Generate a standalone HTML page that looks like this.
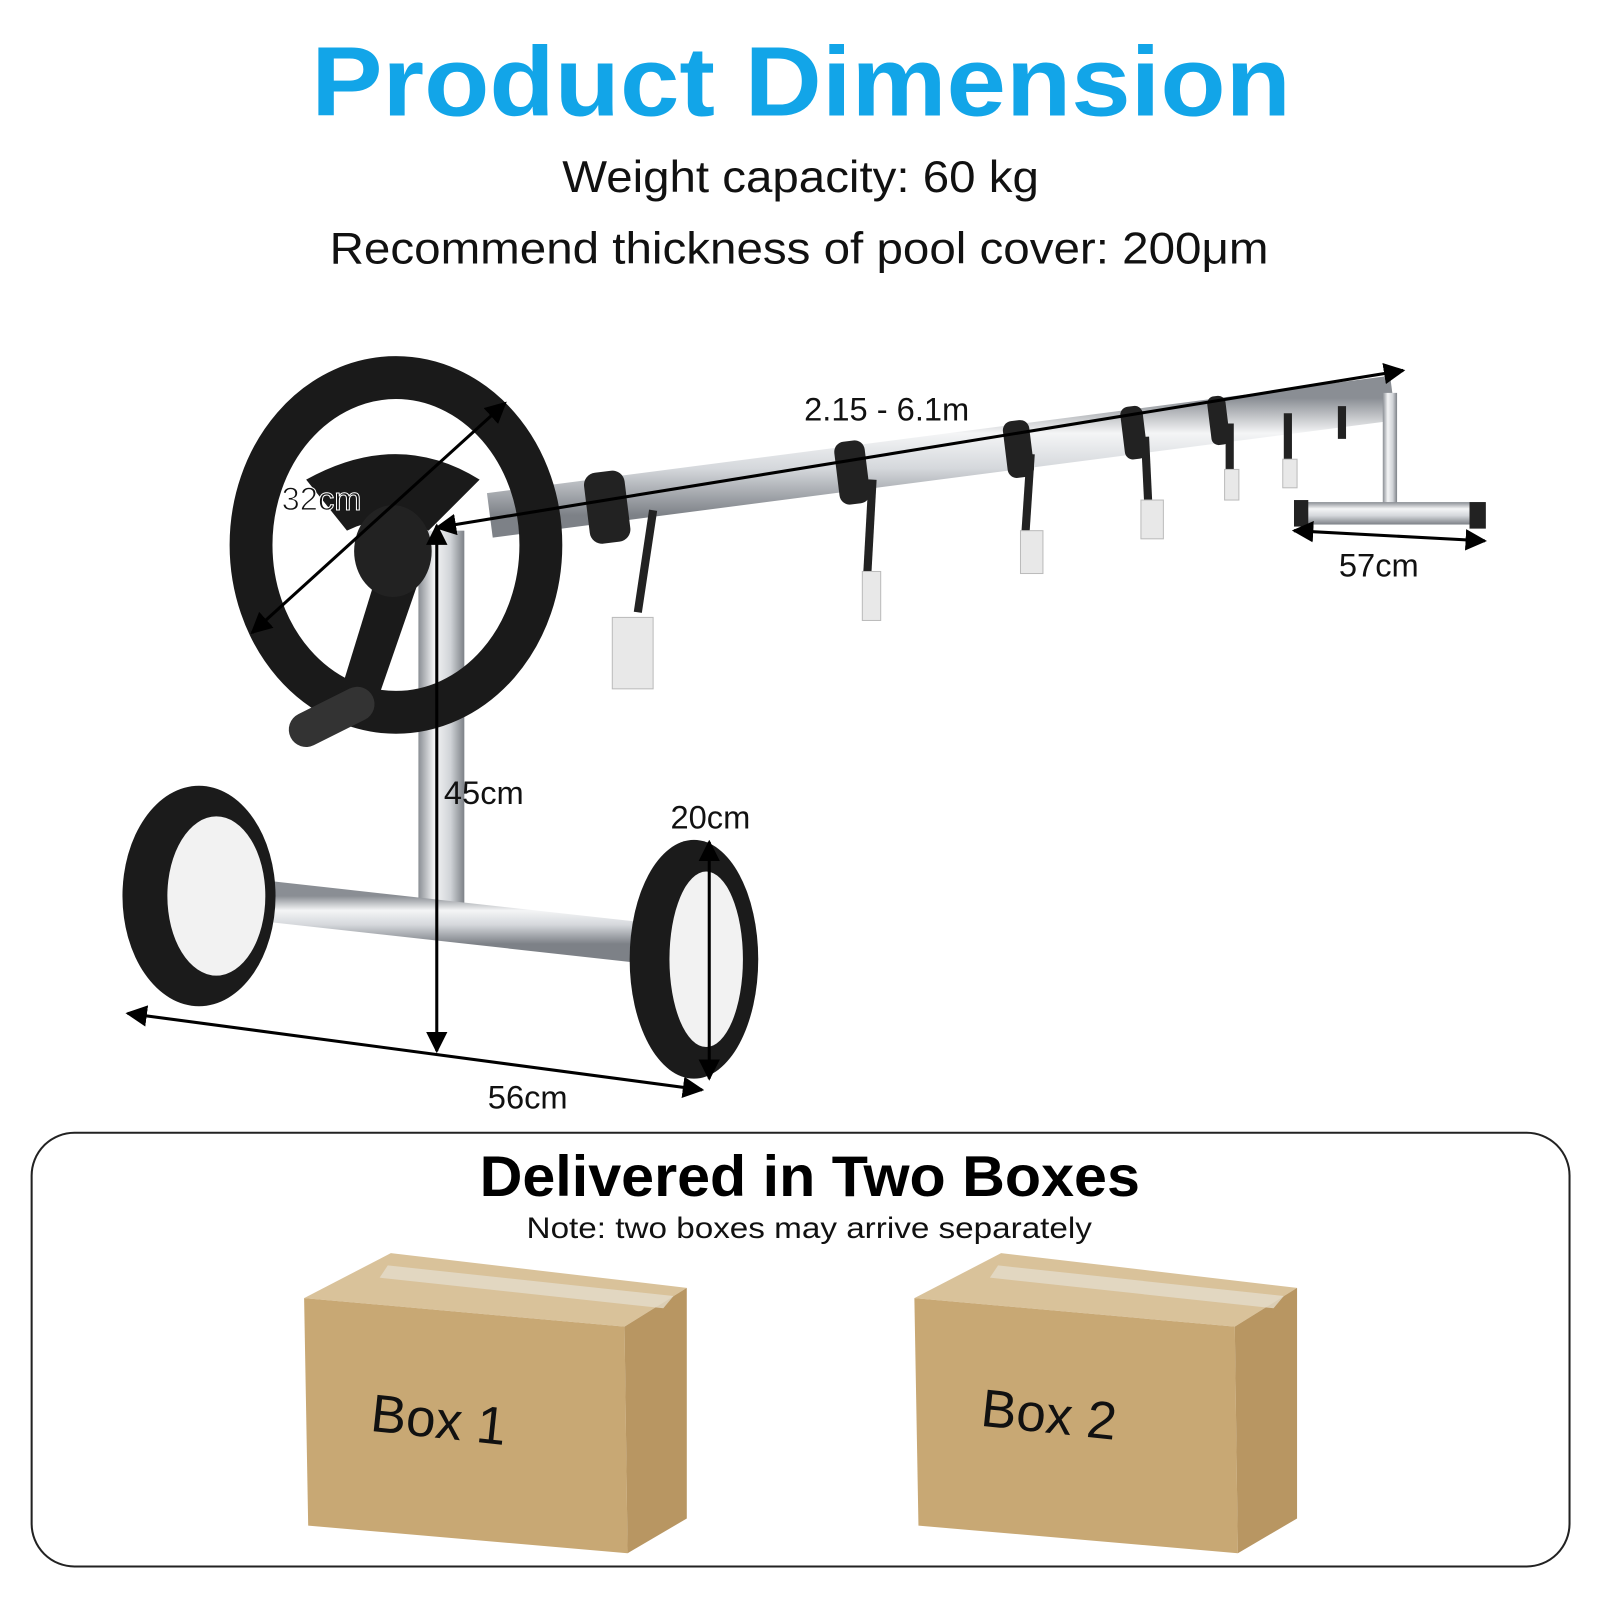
<!DOCTYPE html>
<html><head><meta charset="utf-8"><style>
html,body{margin:0;padding:0;background:#fff}
svg{display:block}
text{font-family:"Liberation Sans",sans-serif}
</style></head><body>
<svg width="1600" height="1600" viewBox="0 0 1600 1600" xmlns="http://www.w3.org/2000/svg">
<defs>
<linearGradient id="pipe" x1="0" y1="0" x2="0" y2="1">
<stop offset="0" stop-color="#8a8e94"/><stop offset="0.3" stop-color="#f4f5f6"/><stop offset="0.6" stop-color="#d5d8dc"/><stop offset="1" stop-color="#7d8187"/></linearGradient>
<linearGradient id="vpipe" x1="0" y1="0" x2="1" y2="0">
<stop offset="0" stop-color="#8a8e94"/><stop offset="0.35" stop-color="#f4f5f6"/><stop offset="0.7" stop-color="#d0d3d7"/><stop offset="1" stop-color="#7d8187"/></linearGradient>
<marker id="ar" viewBox="0 0 10 10" refX="9" refY="5" markerWidth="7" markerHeight="7" orient="auto-start-reverse"><path d="M0,0L10,5L0,10z" fill="#000"/></marker>
</defs>
<g transform="scale(1.0205)">
<text x="305" y="113" font-size="96" font-weight="bold" fill="#12a5e8" textLength="960" lengthAdjust="spacingAndGlyphs">Product Dimension</text>
<text x="551" y="188" font-size="44" fill="#111" textLength="467" lengthAdjust="spacingAndGlyphs">Weight capacity: 60 kg</text>
<text x="323" y="258" font-size="44" fill="#111" textLength="920" lengthAdjust="spacingAndGlyphs">Recommend thickness of pool cover: 200μm</text>

<line x1="480" y1="505" x2="1365" y2="390" stroke="url(#pipe)" stroke-width="44"/>
<g fill="#222">
<rect x="575" y="462" width="40" height="70" rx="12" transform="rotate(-7 595 497)"/>
<rect x="820" y="432" width="30" height="62" rx="10" transform="rotate(-7 835 463)"/>
<rect x="985" y="412" width="26" height="56" rx="9" transform="rotate(-7 998 440)"/>
<rect x="1100" y="398" width="22" height="52" rx="8" transform="rotate(-7 1111 424)"/>
<rect x="1185" y="388" width="18" height="48" rx="7" transform="rotate(-7 1194 412)"/>
</g>
<g stroke="#222" stroke-width="8" fill="none">
<path d="M640 500 L625 600"/><path d="M855 470 L850 560"/><path d="M1010 445 L1005 520"/><path d="M1122 428 L1125 490"/><path d="M1205 415 L1205 465"/><path d="M1262 405 L1262 455"/><path d="M1315 398 L1315 430"/>
</g>
<g fill="#e8e8e8" stroke="#bbb">
<rect x="600" y="605" width="40" height="70"/><rect x="845" y="560" width="18" height="48"/><rect x="1000" y="520" width="22" height="42"/><rect x="1118" y="490" width="22" height="38"/><rect x="1200" y="460" width="14" height="30"/><rect x="1257" y="450" width="14" height="28"/>
</g>
<rect x="1355" y="385" width="14" height="110" fill="url(#vpipe)"/>
<rect x="1270" y="492" width="185" height="22" fill="url(#pipe)"/>
<rect x="1268" y="490" width="14" height="26" fill="#222"/><rect x="1440" y="492" width="16" height="26" fill="#222"/>

<rect x="410" y="520" width="45" height="385" fill="url(#vpipe)"/>
<line x1="215" y1="878" x2="640" y2="925" stroke="url(#pipe)" stroke-width="40"/>
<ellipse cx="195" cy="878" rx="75" ry="108" fill="#1b1b1b"/>
<ellipse cx="212" cy="878" rx="48" ry="78" fill="#f2f2f2"/>
<ellipse cx="680" cy="940" rx="63" ry="117" fill="#1b1b1b"/>
<ellipse cx="692" cy="940" rx="36" ry="86" fill="#f2f2f2"/>
<ellipse cx="388" cy="534" rx="142" ry="164" fill="none" stroke="#1a1a1a" stroke-width="42"/>
<path d="M300 470 Q390 420 470 470 L420 520 Q380 500 340 520 Z" fill="#1a1a1a"/>
<path d="M370 560 L330 690 L365 700 L410 570 Z" fill="#1a1a1a"/>
<ellipse cx="385" cy="540" rx="38" ry="45" fill="#222"/>
<line x1="300" y1="715" x2="350" y2="690" stroke="#333" stroke-width="34" stroke-linecap="round"/>

<g stroke="#000" stroke-width="3" fill="none">
<line x1="247" y1="620" x2="495" y2="395" marker-start="url(#ar)" marker-end="url(#ar)"/>
<line x1="428" y1="517" x2="1375" y2="363" marker-start="url(#ar)" marker-end="url(#ar)"/>
<line x1="1268" y1="520" x2="1455" y2="530" marker-start="url(#ar)" marker-end="url(#ar)"/>
<line x1="428" y1="515" x2="428" y2="1030" marker-start="url(#ar)" marker-end="url(#ar)"/>
<line x1="695" y1="825" x2="695" y2="1057" marker-start="url(#ar)" marker-end="url(#ar)"/>
<line x1="125" y1="993" x2="688" y2="1068" marker-start="url(#ar)" marker-end="url(#ar)"/>
</g>
<g font-size="32" fill="#111">
<text x="788" y="412">2.15 - 6.1m</text>
<text x="276" y="500" stroke="#fff" stroke-width="1">32cm</text>
<text x="1312" y="565">57cm</text>
<text x="435" y="788">45cm</text>
<text x="657" y="812">20cm</text>
<text x="478" y="1086">56cm</text>
</g>

<rect x="31" y="1110" width="1507" height="425" rx="42" fill="none" stroke="#222" stroke-width="2"/>
<text x="470" y="1172" font-size="56" font-weight="bold" fill="#000" textLength="647" lengthAdjust="spacingAndGlyphs">Delivered in Two Boxes</text>
<text x="516" y="1213" font-size="29" fill="#111" textLength="554" lengthAdjust="spacingAndGlyphs">Note: two boxes may arrive separately</text>

<g id="box">
<polygon points="298,1272 383,1228 673,1262 612,1300" fill="#d9c29a"/>
<polygon points="298,1272 612,1300 615,1522 302,1495" fill="#c8a874"/>
<polygon points="612,1300 673,1262 673,1488 615,1522" fill="#b89662"/>
<polygon points="380,1240 660,1270 650,1282 372,1252" fill="#e4dccb" opacity="0.8"/>
</g>
<use href="#box" transform="translate(598,0)"/>
<text x="0" y="0" font-size="52" fill="#111" transform="translate(362,1402) rotate(6)">Box 1</text>
<text x="0" y="0" font-size="52" fill="#111" transform="translate(960,1397) rotate(6)">Box 2</text>
</g>
</svg>
</body></html>
